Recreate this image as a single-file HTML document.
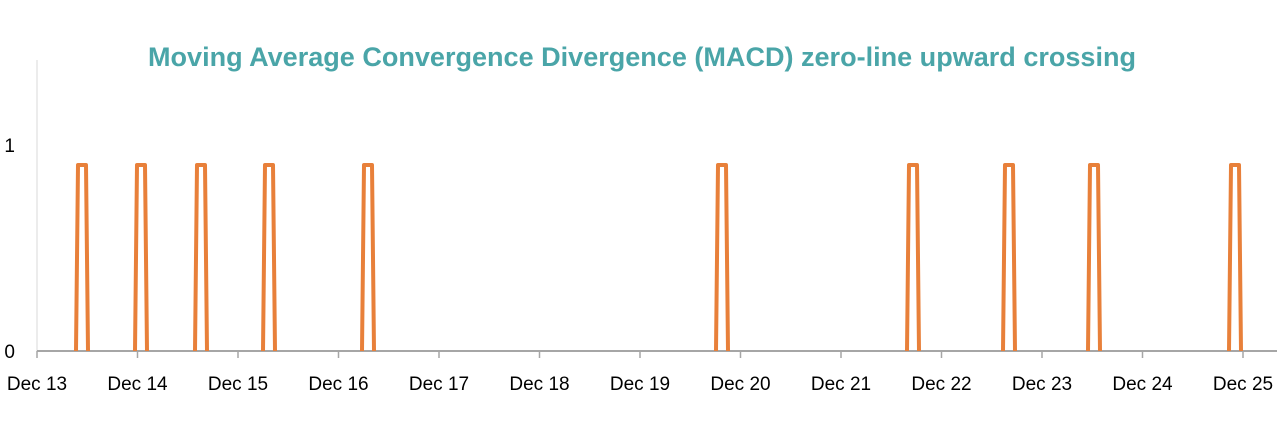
<!DOCTYPE html>
<html><head><style>body{margin:0;background:#fff}svg text{font-family:"Liberation Sans",sans-serif}</style></head><body>
<svg width="1280" height="420" xmlns="http://www.w3.org/2000/svg">
<text x="642" y="66" text-anchor="middle" font-size="27" font-weight="bold" fill="#4aa5a8" textLength="988" lengthAdjust="spacingAndGlyphs">Moving Average Convergence Divergence (MACD) zero-line upward crossing</text>
<line x1="37" y1="60" x2="37" y2="351" stroke="#d9d9d9" stroke-width="1"/>
<line x1="37" y1="351" x2="1277" y2="351" stroke="#a6a6a6" stroke-width="2"/>
<g stroke="#a6a6a6" stroke-width="1.5">
<line x1="37" y1="351" x2="37" y2="358"/><line x1="137.5" y1="351" x2="137.5" y2="358"/><line x1="238" y1="351" x2="238" y2="358"/><line x1="338.5" y1="351" x2="338.5" y2="358"/><line x1="439" y1="351" x2="439" y2="358"/><line x1="539.5" y1="351" x2="539.5" y2="358"/><line x1="640" y1="351" x2="640" y2="358"/><line x1="740.5" y1="351" x2="740.5" y2="358"/><line x1="841" y1="351" x2="841" y2="358"/><line x1="941.5" y1="351" x2="941.5" y2="358"/><line x1="1042" y1="351" x2="1042" y2="358"/><line x1="1142.5" y1="351" x2="1142.5" y2="358"/><line x1="1243" y1="351" x2="1243" y2="358"/>
</g>
<g font-size="19" fill="#000" text-anchor="middle">
<text x="37" y="390">Dec 13</text><text x="137.5" y="390">Dec 14</text><text x="238" y="390">Dec 15</text><text x="338.5" y="390">Dec 16</text><text x="439" y="390">Dec 17</text><text x="539.5" y="390">Dec 18</text><text x="640" y="390">Dec 19</text><text x="740.5" y="390">Dec 20</text><text x="841" y="390">Dec 21</text><text x="941.5" y="390">Dec 22</text><text x="1042" y="390">Dec 23</text><text x="1142.5" y="390">Dec 24</text><text x="1243" y="390">Dec 25</text>
</g>
<g font-size="19" fill="#000" text-anchor="end"><text x="15" y="152">1</text><text x="15" y="358">0</text></g>
<g fill="none" stroke="#e8803a" stroke-width="4" stroke-linejoin="round">
<path d="M76 351L78 165L86 165L88 351"/>
<path d="M135 351L137 165L145 165L147 351"/>
<path d="M195 351L197 165L205 165L207 351"/>
<path d="M263 351L265 165L273 165L275 351"/>
<path d="M362 351L364 165L372 165L374 351"/>
<path d="M716 351L718 165L726 165L728 351"/>
<path d="M907 351L909 165L917 165L919 351"/>
<path d="M1003 351L1005 165L1013 165L1015 351"/>
<path d="M1088 351L1090 165L1098 165L1100 351"/>
<path d="M1229 351L1231 165L1239 165L1241 351"/>
</g>
</svg>
</body></html>
